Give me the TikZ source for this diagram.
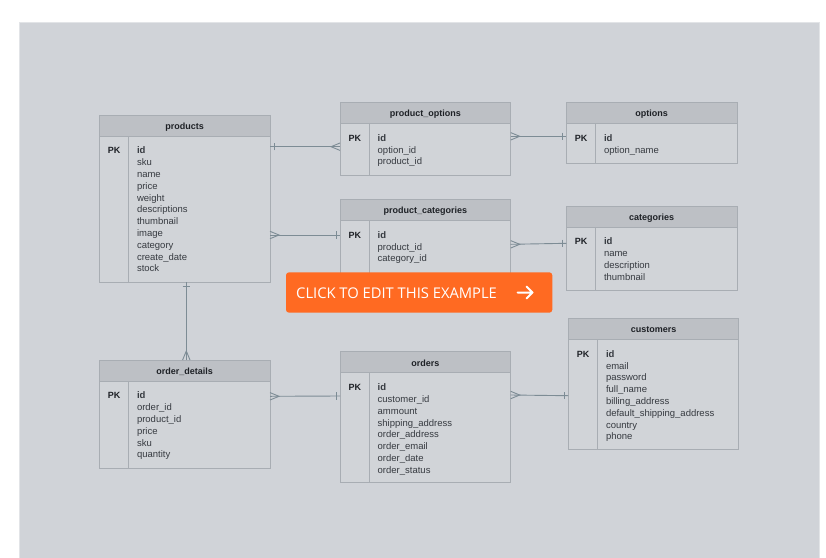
\documentclass[tikz,border=0pt]{standalone}
\usepackage{fontspec}
\setmainfont{Liberation Sans}
\newfontfamily\btnfont{Open Sans}
\usetikzlibrary{calc}
\definecolor{panelc}{HTML}{D0D3D8}
\definecolor{panelline}{HTML}{E2E4E7}
\definecolor{boxc}{HTML}{D1D4D8}
\definecolor{hdrc}{HTML}{BDC0C5}
\definecolor{bordc}{HTML}{A8ADB3}
\definecolor{connc}{HTML}{7D8C95}
\definecolor{txtc}{HTML}{363A40}
\definecolor{darkc}{HTML}{1E2126}
\definecolor{btnc}{HTML}{FF6A22}
\tikzset{
  tblbox/.style={rectangle, fill=boxc, draw=none, inner sep=0pt, outer sep=0pt},
  hdrfill/.style={fill=hdrc},
  bord/.style={draw=bordc, line width=0.9pt},
  ttl/.style={font=\fontsize{9}{10}\selectfont\bfseries, text=darkc, inner sep=0pt},
  pkst/.style={font=\fontsize{9}{10}\selectfont\bfseries, text=darkc, inner sep=0pt, anchor=mid},
  fld/.style={font=\fontsize{9.5}{11}\selectfont, text=txtc, inner sep=0pt, anchor=mid west},
  conn/.style={draw=connc, line width=0.9pt},
  onemark/.pic={\draw[conn] (-4,-3.7) -- (-4,3.7);},
  manymark/.pic={\draw[conn] (0,-3.7) -- (-9,0) -- (0,3.7);},
}
\newcommand\ertable[7]{%
  \node[tblbox, anchor=north west, minimum width={#4pt-#2pt}, minimum height={#5pt-#3pt}] (#1) at (#2,#3) {};
  \fill[hdrfill] (#2,#3) rectangle (#4,{#3+21});
  \draw[bord] (#2,{#3+21}) -- (#4,{#3+21});
  \draw[bord] ({#2+29.5},{#3+21}) -- ({#2+29.5},#5);
  \draw[bord] (#1.north west) rectangle (#1.south east);
  \node[ttl] at ({(#2+#4)/2},{#3+11.8}) {#6};
  \node[pkst] at ({#2+14.75},{#3+36.3}) {PK};
  \foreach \f [count=\i from 0] in {#7} {\node[fld] at ({#2+37.5},{#3+36.3+11.8*\i}) {\f};}
}
\begin{document}
\begin{tikzpicture}[x=1pt,y=-1pt]
\useasboundingbox (0,0) rectangle (826,557);
\fill[white] (0,0) rectangle (826,557);
\fill[panelc, draw=panelline, line width=0.8pt] (19,22) rectangle (819,560);

\ertable{products}{99.3}{115}{270}{282}{products}{\textbf{id},sku,name,price,weight,descriptions,thumbnail,image,category,create\_date,stock}
\ertable{product_options}{340}{102.3}{510.7}{175}{product\_options}{\textbf{id},option\_id,product\_id}
\ertable{options}{566.3}{102.3}{737}{163.3}{options}{\textbf{id},option\_name}
\ertable{product_categories}{340}{199.3}{510.7}{280}{product\_categories}{\textbf{id},product\_id,category\_id}
\ertable{categories}{566.3}{206}{737}{290}{categories}{\textbf{id},name,description,thumbnail}
\ertable{order_details}{99.3}{360}{270}{468.3}{order\_details}{\textbf{id},order\_id,product\_id,price,sku,quantity}
\ertable{orders}{340}{351.7}{510.7}{482.3}{orders}{\textbf{id},customer\_id,ammount,shipping\_address,order\_address,order\_email,order\_date,order\_status}
\ertable{customers}{568.3}{318.3}{738.7}{449.3}{customers}{\textbf{id},email,password,full\_name,billing\_address,default\_shipping\_address,country,phone}

% connectors
\coordinate (a1) at ($(products.north east)+(0,31.7)$);
\coordinate (b1) at ($(product_options.north west)+(0,44.4)$);
\draw[conn] (a1) -- (b1);
\pic[rotate=180] at (a1) {onemark};
\pic at (b1) {manymark};

\coordinate (a2) at ($(products.north east)+(0,120)$);
\coordinate (b2) at ($(product_categories.north west)+(0,35.7)$);
\draw[conn] (a2) -- (b2);
\pic[rotate=180] at (a2) {manymark};
\pic at (b2) {onemark};

\coordinate (a3) at ($(product_options.north east)+(0,34)$);
\coordinate (b3) at ($(options.north west)+(0,34)$);
\draw[conn] (a3) -- (b3);
\pic[rotate=180] at (a3) {manymark};
\pic at (b3) {onemark};

\coordinate (a4) at ($(product_categories.north east)+(0,45)$);
\coordinate (b4) at ($(categories.north west)+(0,37.3)$);
\draw[conn] (a4) -- (b4);
\pic[rotate=180] at (a4) {manymark};
\pic at (b4) {onemark};

\coordinate (a5) at ($(products.south west)+(87,0)$);
\coordinate (b5) at ($(order_details.north west)+(87,0)$);
\draw[conn] (a5) -- (b5);
\pic[rotate=90] at (a5) {onemark};
\pic[rotate=-90] at (b5) {manymark};

\coordinate (a6) at ($(order_details.north east)+(0,36.3)$);
\coordinate (b6) at ($(orders.north west)+(0,44.3)$);
\draw[conn] (a6) -- (b6);
\pic[rotate=180] at (a6) {manymark};
\pic at (b6) {onemark};

\coordinate (a7) at ($(orders.north east)+(0,43.3)$);
\coordinate (b7) at ($(customers.north west)+(0,77.4)$);
\draw[conn] (a7) -- (b7);
\pic[rotate=180] at (a7) {manymark};
\pic at (b7) {onemark};

% button
\node[fill=btnc, rounded corners=3pt, inner sep=0pt, outer sep=0pt, anchor=north west, minimum width=266.3pt, minimum height=40.4pt] (btn) at (286,272.3) {};
\node[font=\btnfont\fontsize{14.75}{16}\selectfont, text=white, inner sep=0pt, anchor=base west] (btntxt) at (296,298.3) {CLICK TO EDIT THIS EXAMPLE};
\draw[white, line width=2pt, line cap=round, line join=round] (517.5,292.5) -- (532.5,292.5) (526.5,286.5) -- (532.5,292.5) -- (526.5,298.5);
\end{tikzpicture}
\end{document}
